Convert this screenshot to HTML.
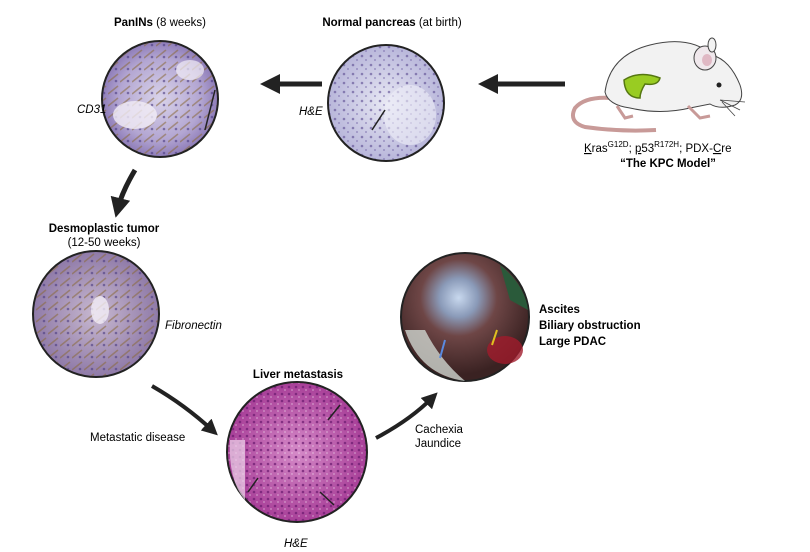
<!DOCTYPE html>
<html><head><meta charset="utf-8"><style>
body{margin:0;background:#fff;}
svg{display:block;font-family:"Liberation Sans",Arial,sans-serif;}
</style></head><body>
<svg width="810" height="552" viewBox="0 0 810 552">
<defs>
<radialGradient id="gPan" cx="50%" cy="50%" r="50%"><stop offset="0" stop-color="#d9d3ea"/><stop offset="0.7" stop-color="#b3a6d2"/><stop offset="1" stop-color="#8e7cb8"/></radialGradient>
<radialGradient id="gNorm" cx="50%" cy="50%" r="50%"><stop offset="0" stop-color="#e8e8f4"/><stop offset="1" stop-color="#b8b6da"/></radialGradient>
<radialGradient id="gDes" cx="50%" cy="50%" r="50%"><stop offset="0" stop-color="#c8b9d0"/><stop offset="1" stop-color="#8f7aa8"/></radialGradient>
<radialGradient id="gLiv" cx="50%" cy="50%" r="50%"><stop offset="0" stop-color="#d58ac8"/><stop offset="1" stop-color="#a83f98"/></radialGradient>
<radialGradient id="gAsc" cx="45%" cy="35%" r="60%"><stop offset="0" stop-color="#c8d8ee"/><stop offset="0.25" stop-color="#8a9ab8"/><stop offset="0.5" stop-color="#6e4646"/><stop offset="1" stop-color="#3a2222"/></radialGradient>
<pattern id="dots" width="9" height="9" patternUnits="userSpaceOnUse"><circle cx="2" cy="2" r="1.3" fill="#5a4a90" opacity="0.6"/><circle cx="6" cy="6" r="1" fill="#6a5aa0" opacity="0.5"/></pattern>
<pattern id="dotsM" width="7" height="7" patternUnits="userSpaceOnUse"><circle cx="2" cy="2" r="1.3" fill="#6a1a70" opacity="0.7"/><circle cx="5" cy="5" r="0.9" fill="#fff" opacity="0.4"/></pattern>
<pattern id="brown" width="12" height="12" patternUnits="userSpaceOnUse"><path d="M0 10 L10 2" stroke="#8a6a3a" stroke-width="1.6" opacity="0.55"/><circle cx="8" cy="9" r="1.3" fill="#4a3a80" opacity="0.6"/></pattern>
<marker id="ah" markerWidth="4" markerHeight="4" refX="2" refY="2" orient="auto" markerUnits="strokeWidth"><path d="M0,0 L4,2 L0,4 Z" fill="#222"/></marker>
</defs>

<!-- Arrows -->
<line x1="565" y1="84" x2="488" y2="84" stroke="#222" stroke-width="5" marker-end="url(#ah)"/>
<line x1="322" y1="84" x2="270" y2="84" stroke="#222" stroke-width="5" marker-end="url(#ah)"/>
<path d="M135 170 Q122 192 118 208" fill="none" stroke="#222" stroke-width="5" marker-end="url(#ah)"/>
<path d="M152 386 Q185 405 212 430" fill="none" stroke="#222" stroke-width="4" marker-end="url(#ah)"/>
<path d="M376 438 Q410 420 432 398" fill="none" stroke="#222" stroke-width="4" marker-end="url(#ah)"/>

<!-- PanINs -->
<g>
<circle cx="160" cy="99" r="58" fill="url(#gPan)" stroke="#222" stroke-width="2"/>
<circle cx="160" cy="99" r="57" fill="url(#brown)"/>
<ellipse cx="135" cy="115" rx="22" ry="14" fill="#f2eef6" opacity="0.8"/>
<ellipse cx="190" cy="70" rx="14" ry="10" fill="#f2eef6" opacity="0.7"/>
<line x1="215" y1="90" x2="205" y2="130" stroke="#222" stroke-width="1.5"/>
</g>
<text x="160" y="26" text-anchor="middle" font-size="11.5"><tspan font-weight="bold">PanINs</tspan> (8 weeks)</text>
<text x="77" y="113" font-size="11.5" font-style="italic">CD31</text>

<!-- Normal pancreas -->
<g>
<circle cx="386" cy="103" r="58" fill="url(#gNorm)" stroke="#222" stroke-width="2"/>
<circle cx="386" cy="103" r="57" fill="url(#dots)"/>
<ellipse cx="410" cy="115" rx="26" ry="30" fill="#eeeef8" opacity="0.6"/>
<line x1="385" y1="110" x2="372" y2="130" stroke="#222" stroke-width="1.5"/>
</g>
<text x="392" y="26" text-anchor="middle" font-size="11.5"><tspan font-weight="bold">Normal pancreas</tspan> (at birth)</text>
<text x="299" y="115" font-size="11.5" font-style="italic">H&amp;E</text>

<!-- Mouse -->
<g>
<path d="M612 98 Q585 96 575 108 Q568 122 585 127 Q620 132 656 130" fill="none" stroke="#c89a98" stroke-width="4"/>
<path d="M605 92 Q610 55 650 45 Q690 35 712 55 Q730 60 740 85 Q745 100 735 105 Q720 110 710 104 L690 108 Q660 115 630 108 Q608 105 605 92 Z" fill="#f2f2f2" stroke="#444" stroke-width="1"/>
<ellipse cx="705" cy="58" rx="11" ry="12" fill="#f0e8ec" stroke="#444" stroke-width="1"/>
<ellipse cx="707" cy="60" rx="5" ry="6" fill="#e0b8c4"/>
<ellipse cx="712" cy="45" rx="4" ry="7" fill="#f2f2f2" stroke="#444" stroke-width="1"/>
<circle cx="719" cy="85" r="2.5" fill="#222"/>
<path d="M624 80 Q640 70 660 78 Q658 86 645 84 Q640 92 640 98 Q625 98 624 80 Z" fill="#99cc22" stroke="#557711" stroke-width="1.5"/>
<path d="M617 106 L625 118 L633 116 M688 106 L700 118 L710 116" fill="none" stroke="#c89a98" stroke-width="3"/>
<path d="M720 100 L740 110 M722 102 L735 116 M720 100 L745 102" stroke="#444" stroke-width="0.8"/>
</g>
<text x="584" y="152" font-size="11.5"><tspan text-decoration="underline">K</tspan>ras<tspan font-size="8" dy="-5">G12D</tspan><tspan dy="5">; </tspan><tspan text-decoration="underline">p</tspan>53<tspan font-size="8" dy="-5">R172H</tspan><tspan dy="5">; PDX-</tspan><tspan text-decoration="underline">C</tspan>re</text>
<text x="668" y="167" text-anchor="middle" font-size="11.5" font-weight="bold">“The KPC Model”</text>

<!-- Desmoplastic tumor -->
<text x="104" y="232" text-anchor="middle" font-size="11.5" font-weight="bold">Desmoplastic tumor</text>
<text x="104" y="246" text-anchor="middle" font-size="11.5">(12-50 weeks)</text>
<g>
<circle cx="96" cy="314" r="63" fill="url(#gDes)" stroke="#222" stroke-width="2"/>
<circle cx="96" cy="314" r="62" fill="url(#brown)"/>
<ellipse cx="100" cy="310" rx="9" ry="14" fill="#f2eef6" opacity="0.8"/>
</g>
<text x="165" y="329" font-size="11.5" font-style="italic">Fibronectin</text>

<!-- Liver metastasis -->
<text x="298" y="378" text-anchor="middle" font-size="11.5" font-weight="bold">Liver metastasis</text>
<g>
<circle cx="297" cy="452" r="70" fill="url(#gLiv)" stroke="#222" stroke-width="2"/>
<circle cx="297" cy="452" r="69" fill="url(#dotsM)"/>
<path d="M230 440 Q228 480 245 500 L245 440 Z" fill="#f0d8ec" opacity="0.7"/>
<line x1="340" y1="405" x2="328" y2="420" stroke="#222" stroke-width="1.5"/>
<line x1="258" y1="478" x2="248" y2="492" stroke="#222" stroke-width="1.5"/>
<line x1="320" y1="492" x2="334" y2="505" stroke="#222" stroke-width="1.5"/>
</g>
<text x="90" y="441" font-size="11.5">Metastatic disease</text>
<text x="284" y="547" font-size="11.5" font-style="italic">H&amp;E</text>

<!-- Ascites -->
<g>
<circle cx="465" cy="317" r="64" fill="url(#gAsc)" stroke="#222" stroke-width="2"/>
<path d="M405 330 Q420 375 465 381 Q440 360 425 330 Z" fill="#cfd6d0" opacity="0.8"/>
<ellipse cx="505" cy="350" rx="18" ry="14" fill="#a01c2c" opacity="0.8"/>
<path d="M500 265 Q525 285 528 310 L510 300 Z" fill="#2a5a3a"/>
<line x1="445" y1="340" x2="440" y2="358" stroke="#5a8ae0" stroke-width="2"/>
<line x1="497" y1="330" x2="492" y2="345" stroke="#e0c020" stroke-width="2"/>
</g>
<text x="539" y="313" font-size="11.5" font-weight="bold">Ascites</text>
<text x="539" y="329" font-size="11.5" font-weight="bold">Biliary obstruction</text>
<text x="539" y="345" font-size="11.5" font-weight="bold">Large PDAC</text>
<text x="415" y="433" font-size="11.5">Cachexia</text>
<text x="415" y="447" font-size="11.5">Jaundice</text>
</svg>
</body></html>
